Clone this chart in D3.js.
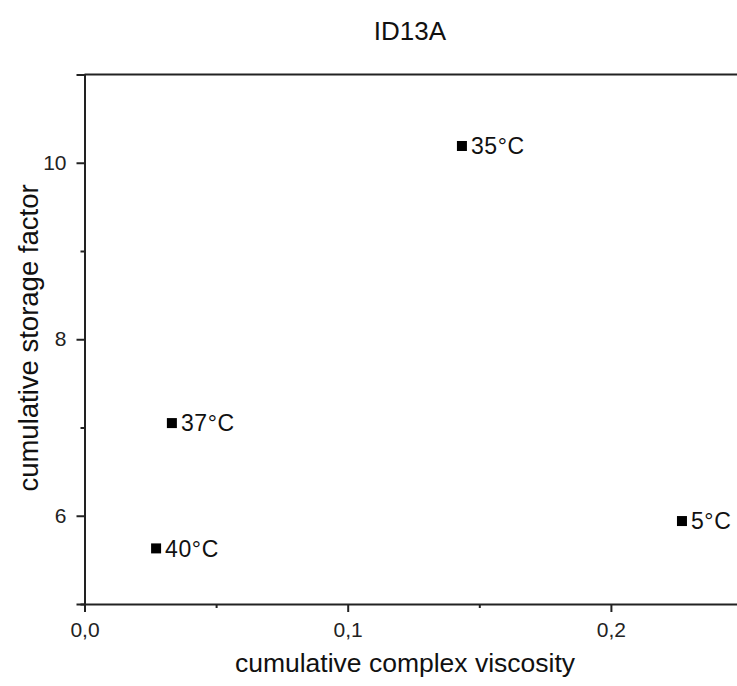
<!DOCTYPE html>
<html>
<head>
<meta charset="utf-8">
<script src="https://cdn.jsdelivr.net/npm/d3@7"></script>
<style>
  html, body { margin: 0; padding: 0; background: #fff; }
  svg { display: block; font-family: Arial, "Liberation Sans", sans-serif; }
</style>
</head>
<body>
<svg id="chart" width="737" height="686"></svg>
<script>
const labels = ["35°C", "37°C", "40°C", "5°C"];
const viscosity = [0.1434, 0.0332, 0.0272, 0.227];
const storage = [10.19, 7.05, 5.63, 5.94];
const xMajorTicks = [0, 0.1, 0.2];
const xMinorTicks = [0.05, 0.15, 0.25];
const yMajorTicks = [6, 8, 10];
const yMinorTicks = [5, 7, 9, 11];
const chartTitle = "ID13A";
const xTitle = "cumulative complex viscosity";
const yTitle = "cumulative storage factor";

const svg = d3.select("#chart");
const m = { left: 84.5, top: 74.5, bottom: 604, right: 742.5 };

const x = d3.scaleLinear().domain([0, 0.25]).range([m.left, m.right]);
const y = d3.scaleLinear().domain([5, 11]).range([m.bottom, m.top]);
const fmt = v => d3.format(".1f")(v).replace(".", ",");
const axisColor = "#222";

// top frame line
svg.append("line")
  .attr("x1", m.left).attr("x2", m.right)
  .attr("y1", m.top).attr("y2", m.top)
  .attr("stroke", axisColor).attr("stroke-width", 2);

// x axis
const gx = svg.append("g").attr("transform", `translate(0,${m.bottom})`);
gx.call(d3.axisBottom(x).tickValues(xMajorTicks).tickFormat(fmt).tickSize(8).tickPadding(10));
gx.append("g").call(d3.axisBottom(x).tickValues(xMinorTicks).tickFormat("").tickSize(4))
  .select(".domain").remove();

// y axis
const gy = svg.append("g").attr("transform", `translate(${m.left},0)`);
gy.call(d3.axisLeft(y).tickValues(yMajorTicks).tickFormat(d3.format("d")).tickSize(8).tickPadding(10));
gy.append("g").call(d3.axisLeft(y).tickValues(yMinorTicks).tickFormat("").tickSize(4))
  .select(".domain").remove();

gx.attr("font-size", null).attr("font-family", null);
gy.attr("font-size", null).attr("font-family", null);
svg.selectAll(".domain").attr("stroke", axisColor).attr("stroke-width", 2);
svg.selectAll(".tick line").attr("stroke", axisColor).attr("stroke-width", 2);
svg.selectAll(".tick text")
  .style("font-size", "21px").attr("fill", "#222")
  .style("font-family", "Arial, 'Liberation Sans', sans-serif");

// points
const data = labels.map((l, i) => ({ l, vx: viscosity[i], vy: storage[i] }));
const s = 10;
svg.append("g").selectAll("rect").data(data).join("rect")
  .attr("x", d => x(d.vx) - s / 2)
  .attr("y", d => y(d.vy) - s / 2)
  .attr("width", s).attr("height", s)
  .attr("fill", "#000");

svg.append("g").selectAll("text").data(data).join("text")
  .attr("x", d => x(d.vx) + 9)
  .attr("y", d => y(d.vy))
  .attr("dy", "0.36em")
  .style("font-size", "23px")
  .attr("letter-spacing", 0.6)
  .attr("fill", "#111")
  .text(d => d.l);

// titles
svg.append("text")
  .attr("x", 410).attr("y", 40)
  .attr("text-anchor", "middle")
  .style("font-size", "26px").attr("fill", "#111")
  .text(chartTitle);

svg.append("text")
  .attr("x", 405).attr("y", 672)
  .attr("text-anchor", "middle")
  .style("font-size", "26.5px").attr("fill", "#111")
  .text(xTitle);

svg.append("text")
  .attr("transform", `translate(38,338) rotate(-90)`)
  .attr("text-anchor", "middle")
  .style("font-size", "27.5px").attr("fill", "#111")
  .text(yTitle);
</script>
</body>
</html>
